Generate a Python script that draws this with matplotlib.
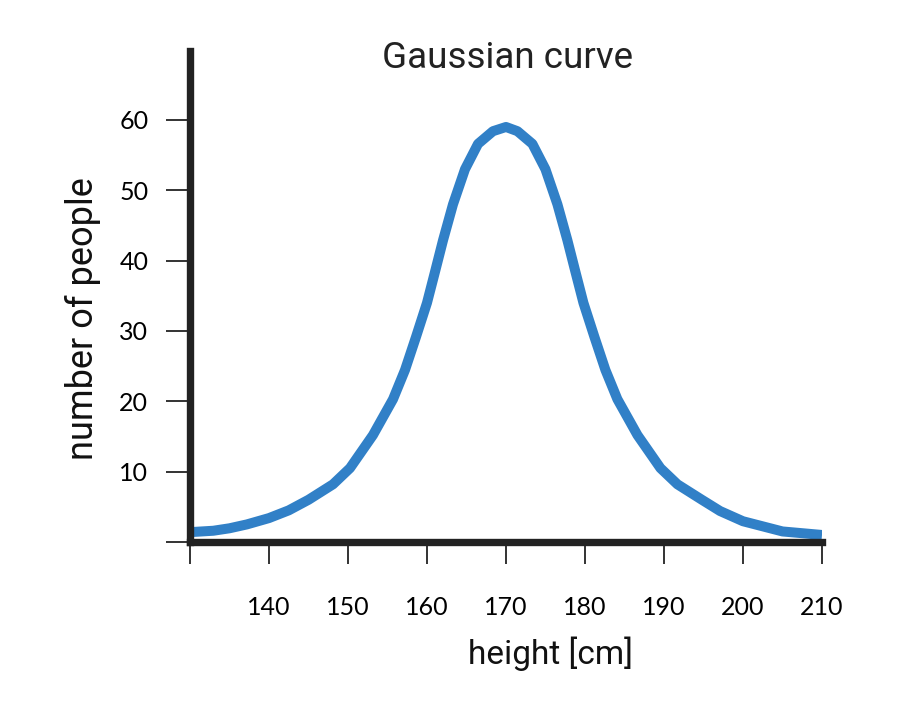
import matplotlib.pyplot as plt

# values
heights = [130, 132.95, 135, 137.2, 140, 142.5, 145, 148.1, 150.25, 153.16,
           155.7, 157.22, 158.61, 160.0, 161.01, 162.03, 163.29, 164.81,
           166.46, 168.35, 170.0, 171.45, 173.34, 174.99, 176.51, 177.77,
           178.79, 179.8, 181.19, 182.58, 184.1, 186.64, 189.55, 191.7,
           194.8, 197.1, 200.0, 205.0, 210]
people = [1.4, 1.6, 1.95, 2.5, 3.4, 4.5, 6.0, 8.2, 10.5, 15.2,
          20.3, 24.47, 29.16, 34.0, 38.4, 42.9, 48.0, 53.0,
          56.6, 58.4, 59.0, 58.4, 56.6, 53.0, 48.0, 42.9,
          38.4, 34.0, 29.16, 24.47, 20.3, 15.2, 10.5, 8.2,
          6.0, 4.4, 2.95, 1.5, 1.0]
x_ticks = [130, 140, 150, 160, 170, 180, 190, 200, 210]
x_labels = ['', '140', '150', '160', '170', '180', '190', '200', '210']
y_ticks = [0, 10, 20, 30, 40, 50, 60]
y_labels = ['', '10', '20', '30', '40', '50', '60']

fig = plt.figure(figsize=(9.18, 7.2), dpi=100)
ax = fig.add_axes([190 / 918, 178 / 720, 632 / 918, 491 / 720])

ax.plot(heights, people, color='#3180c7', linewidth=7.2,
        solid_capstyle='butt', solid_joinstyle='round')

ax.set_xlim(130, 210)
ax.set_ylim(0, 69.8)

for side in ['top', 'right']:
    ax.spines[side].set_visible(False)
for side in ['left', 'bottom']:
    ax.spines[side].set_linewidth(5.3)
    ax.spines[side].set_color('#222222')
    ax.spines[side].set_capstyle('projecting')

ax.set_xticks(x_ticks)
ax.set_xticklabels(x_labels, fontfamily='Lato', fontsize=18)
ax.set_yticks(y_ticks)
ax.set_yticklabels(y_labels, fontfamily='Lato', fontsize=18)
ax.tick_params(axis='x', direction='out', length=16, width=1.4,
               color='#333333', pad=23)
ax.tick_params(axis='y', direction='out', length=17, width=1.4,
               color='#333333', pad=13)

fig.text(508 / 918, 1 - 68 / 720, 'Gaussian curve', fontfamily='Roboto',
         fontsize=26.5, ha='center', va='baseline', color='#222222')
fig.text(550 / 918, 1 - 664 / 720, 'height [cm]', fontfamily='Roboto',
         fontsize=24, ha='center', va='baseline', color='#111111')
fig.text(83 / 918, 1 - 319 / 720, 'number of people', fontfamily='Roboto',
         fontsize=26, ha='center', va='center', rotation=90, color='#111111')

fig.savefig('out.png', dpi=100)
